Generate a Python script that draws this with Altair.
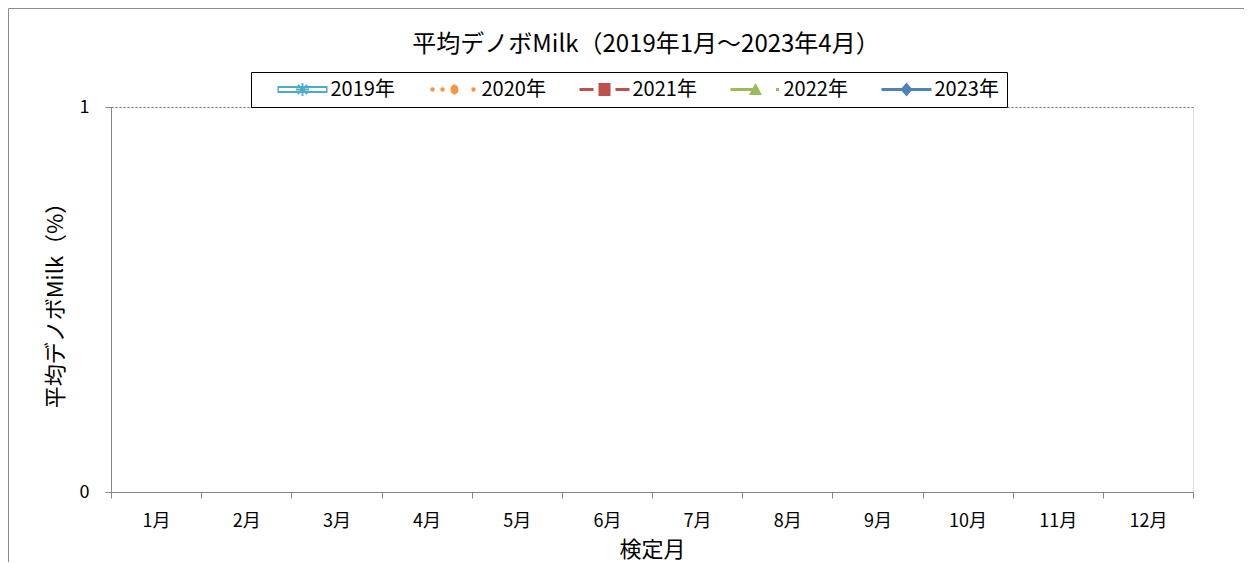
import math
import altair as alt
import pandas as pd

# ---------------- data (no values are plotted) ----------------
MONTHS = ["1月", "2月", "3月", "4月", "5月", "6月", "7月", "8月", "9月", "10月", "11月", "12月"]
YEARS = ["2019年", "2020年", "2021年", "2022年", "2023年"]
VALUES_2019 = [None, None, None, None, None, None, None, None, None, None, None, None]
VALUES_2020 = [None, None, None, None, None, None, None, None, None, None, None, None]
VALUES_2021 = [None, None, None, None, None, None, None, None, None, None, None, None]
VALUES_2022 = [None, None, None, None, None, None, None, None, None, None, None, None]
VALUES_2023 = [None, None, None, None, None, None, None, None, None, None, None, None]
Y_TICKS = [0, 1]

TITLE = "平均デノボMilk（2019年1月～2023年4月）"
Y_TITLE = "平均デノボMilk（%）"
X_TITLE = "検定月"

COLORS = ["#4BACC6", "#F79646", "#C0504D", "#9BBB59", "#4F81BD"]
FONT = "Noto Sans CJK JP"

rows = []
for year, col, vals in zip(YEARS, COLORS, [VALUES_2019, VALUES_2020, VALUES_2021, VALUES_2022, VALUES_2023]):
    for m, v in zip(MONTHS, vals):
        rows.append({"month": m, "year": year, "line_color": col,
                     "value": float("nan") if v is None else v})
df = pd.DataFrame(rows)

# ---------------- legend symbols (Excel-like line + marker glyphs) ----------------
U = 8.0  # symbolSize 256 -> 8 px per path unit


def _pt(x, y):
    return f"{x / U - 1.0:.3f},{y / U:.3f}"


def poly(points, hole=False):
    area = sum(x1 * y2 - x2 * y1 for (x1, y1), (x2, y2) in zip(points, points[1:] + points[:1]))
    if (area < 0) != hole:
        points = points[::-1]
    return "M" + " L".join(_pt(x, y) for x, y in points) + " Z"


def rect(x0, y0, x1, y1, hole=False):
    return poly([(x0, y0), (x1, y0), (x1, y1), (x0, y1)], hole)


def bar(cx, cy, length, t, deg):
    a = math.radians(deg)
    dx, dy = math.cos(a), math.sin(a)
    nx, ny = -dy, dx
    h, w = length / 2, t / 2
    return poly([
        (cx - dx * h - nx * w, cy - dy * h - ny * w),
        (cx + dx * h - nx * w, cy + dy * h - ny * w),
        (cx + dx * h + nx * w, cy + dy * h + ny * w),
        (cx - dx * h + nx * w, cy - dy * h + ny * w),
    ])


def ellipse(cx, cy, rx, ry, n=18):
    return poly([(cx + rx * math.cos(2 * math.pi * i / n), cy + ry * math.sin(2 * math.pi * i / n)) for i in range(n)])


SYM_2019 = " ".join([
    rect(0, -3.5, 50, 3.5), rect(1.5, -1.4, 48.5, 1.4, hole=True),
    bar(25, 0, 13, 1.8, 90), bar(25, 0, 13, 1.8, 45), bar(25, 0, 13, 1.8, -45), bar(25, 0, 13, 1.8, 0),
])
SYM_2020 = " ".join([
    ellipse(4, 0, 2.2, 2.4), ellipse(14, 0, 2.2, 2.4), ellipse(26, 0, 4, 5), ellipse(45, 0, 2.2, 2.4),
])
SYM_2021 = " ".join([
    rect(0, -1.5, 14, 1.5), rect(19, -6.5, 31, 6.5), rect(36, -1.5, 50, 1.5),
])
SYM_2022 = " ".join([
    rect(0, -1.5, 22, 1.5), poly([(25, -6.5), (31.5, 5.5), (18.5, 5.5)]), rect(45.5, -1.5, 48.5, 1.5),
])
SYM_2023 = " ".join([
    rect(0, -1.5, 50, 1.5), poly([(25, -7), (31, 0), (25, 7), (19, 0)]),
])
SHAPES = [SYM_2019, SYM_2020, SYM_2021, SYM_2022, SYM_2023]

# ---------------- chart ----------------
W, H = 1082, 385

x_enc = alt.X("month:N", sort=MONTHS,
              scale=alt.Scale(domain=MONTHS, paddingInner=0, paddingOuter=0),
              axis=alt.Axis(title=X_TITLE, tickBand="extent", labelAngle=0, tickSize=6,
                            labelPadding=14, domainColor="#868686", tickColor="#868686",
                            labelFont=FONT, labelFontSize=18, labelColor="black",
                            titleFont=FONT, titleFontSize=22, titleFontWeight="normal",
                            titleColor="black", titleY=57, titleBaseline="middle", grid=False))
y_enc = alt.Y("value:Q", scale=alt.Scale(domain=[0, 1], nice=False, zero=True),
              axis=alt.Axis(title=Y_TITLE, values=Y_TICKS, format="d", tickSize=6, labelPadding=16,
                            domainColor="#868686", tickColor="#868686",
                            labelFont=FONT, labelFontSize=18, labelColor="black",
                            titleFont=FONT, titleFontSize=22, titleFontWeight="normal",
                            titleColor="black", titleX=-56, titleY=H / 2, titleAngle=270,
                            titleAlign="center", titleBaseline="middle",
                            grid=True, gridColor="#868686", gridDash=[2, 2], gridWidth=1))

legend = alt.Legend(title=None, orient="none", legendX=140, legendY=-35, direction="horizontal",
                    columns=5, symbolSize=256, symbolStrokeWidth=0, symbolOpacity=1,
                    symbolOffset=17, labelOffset=35, columnPadding=14, padding=7.5,
                    strokeColor="black", labelFont=FONT, labelFontSize=20, labelColor="black")

lines = alt.Chart(df).mark_line(strokeWidth=2.5).encode(
    x=x_enc, y=y_enc,
    detail="year:N",
    stroke=alt.Stroke("line_color:N", scale=None),
)
points = alt.Chart(df).mark_point(filled=True, opacity=1, size=60).encode(
    x=x_enc, y=y_enc,
    color=alt.Color("year:N", scale=alt.Scale(domain=YEARS, range=COLORS), legend=legend),
    shape=alt.Shape("year:N", scale=alt.Scale(domain=YEARS, range=SHAPES), legend=legend),
)
frame = alt.Chart(df).mark_rect(fill="transparent", stroke="#8c8c8c", strokeWidth=1, clip=False).encode(
    x=alt.value(-102.5), x2=alt.value(1300), y=alt.value(-98.5), y2=alt.value(700)
).transform_filter("datum.year == '2019年' && datum.month == '1月'")

chart = alt.layer(frame, lines, points).properties(
    width=W, height=H,
    title=alt.TitleParams(text=TITLE, font=FONT, fontSize=24, fontWeight="normal", color="black",
                          anchor="middle", frame="group", offset=-61, baseline="middle", dx=-6),
    padding={"left": 103, "top": 99, "right": 51, "bottom": 70},
    autosize=alt.AutoSizeParams(type="none"),
).configure_view(stroke=None).configure(background="white")

chart.save("out.html", embed_options={"renderer": "svg", "actions": False})
